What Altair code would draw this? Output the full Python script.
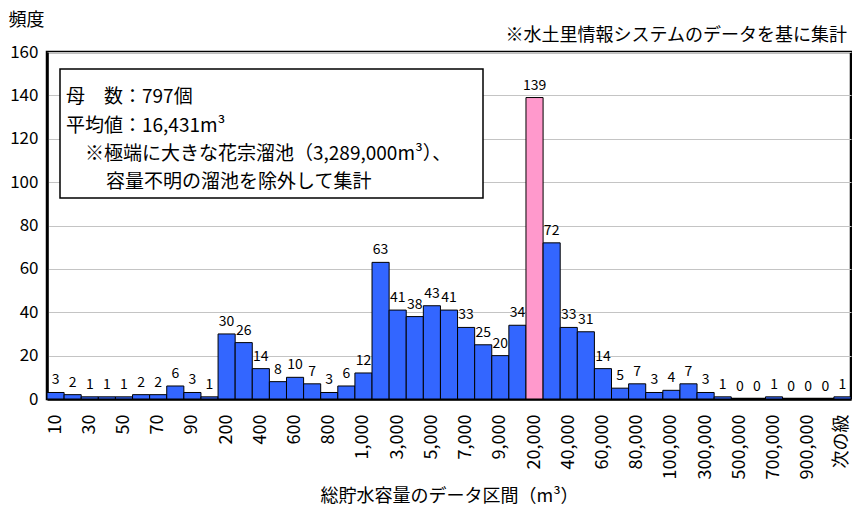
import altair as alt
import pandas as pd

categories = ["10", "20", "30", "40", "50", "60", "70", "80", "90", "100",
              "200", "300", "400", "500", "600", "700", "800", "900", "1,000",
              "2,000", "3,000", "4,000", "5,000", "6,000", "7,000", "8,000", "9,000", "10,000",
              "20,000", "30,000", "40,000", "50,000", "60,000", "70,000", "80,000", "90,000", "100,000",
              "200,000", "300,000", "400,000", "500,000", "600,000", "700,000", "800,000", "900,000", "1,000,000",
              "次の級"]
counts = [3, 2, 1, 1, 1, 2, 2, 6, 3, 1,
          30, 26, 14, 8, 10, 7, 3, 6, 12,
          63, 41, 38, 43, 41, 33, 25, 20, 34,
          139, 72, 33, 31, 14, 5, 7, 3, 4,
          7, 3, 1, 0, 0, 1, 0, 0, 0,
          1]
highlight_bin = "20,000"
tick_labels = categories[::2]
y_ticks = [0, 20, 40, 60, 80, 100, 120, 140, 160]

box_lines = ["母　数：797個",
             "平均値：16,431m³",
             "※極端に大きな花宗溜池（3,289,000m³）、",
             "容量不明の溜池を除外して集計"]
note = "※水土里情報システムのデータを基に集計"
x_title = "総貯水容量のデータ区間（m³）"
y_title = "頻度"

FONT = "Noto Sans CJK JP"

df = pd.DataFrame({"区間": categories, "頻度": counts})

x_enc = alt.X("区間:N", sort=categories,
              scale=alt.Scale(paddingInner=0, paddingOuter=0),
              axis=alt.Axis(values=tick_labels, labelAngle=270, labelFontSize=18,
                            labelPadding=15, ticks=False, title=x_title,
                            titleFontSize=18, titleFontWeight="normal",
                            titleY=97, titleBaseline="middle", labelColor="black",
                            titleColor="black", domainColor="black", domainWidth=2.5))
y_enc = alt.Y("頻度:Q", scale=alt.Scale(domain=[0, 160], nice=False),
              axis=alt.Axis(values=y_ticks, labelFontSize=17, labelPadding=9, ticks=False,
                            grid=True, gridColor="#c4c4c4", gridWidth=1.2,
                            title=y_title, titleAngle=0, titleX=-39, titleY=-32,
                            titleAlign="left", titleBaseline="middle", titleFontSize=18,
                            titleFontWeight="normal", labelColor="black", titleColor="black",
                            domainColor="black", domainWidth=2.5))

bars = alt.Chart(df).mark_bar(stroke="black", strokeWidth=1).encode(
    x=x_enc, y=y_enc,
    color=alt.condition(alt.datum["区間"] == highlight_bin,
                        alt.value("#FF99CC"), alt.value("#3366FF")),
)

labels = alt.Chart(df).mark_text(baseline="bottom", dy=-5, fontSize=14, font=FONT,
                                 color="black").encode(
    x=alt.X("区間:N", sort=categories), y="頻度:Q", text="頻度:Q")

one = alt.Data(values=[{"k": 0}])
box = alt.Chart(one).mark_rect(fill="white", stroke="black", strokeWidth=1.5).encode(
    x=alt.value(13), x2=alt.value(436), y=alt.value(17), y2=alt.value(146))

line_x = [19, 19, 38, 59]
line_y = [45, 74, 102, 130]
box_texts = [
    alt.Chart(one).mark_text(align="left", baseline="middle", fontSize=19, font=FONT,
                             color="black", text=t).encode(x=alt.value(lx), y=alt.value(ly))
    for t, lx, ly in zip(box_lines, line_x, line_y)
]

note_mark = alt.Chart(one).mark_text(align="right", baseline="middle", fontSize=18, font=FONT,
                                     color="black", text=note).encode(
    x=alt.value(800), y=alt.value(-16))

chart = alt.layer(bars, labels, box, *box_texts, note_mark).properties(
    width=804, height=347,
    autosize=alt.AutoSizeParams(type="none"),
    padding={"left": 47, "top": 52, "right": 1, "bottom": 107},
    background="white",
).resolve_scale(x="shared").configure_view(
    stroke="black", strokeWidth=2.5
).configure_axis(labelFont=FONT, titleFont=FONT).configure_text(font=FONT)

chart.save("out.html", embed_options={"renderer": "svg", "actions": False})
